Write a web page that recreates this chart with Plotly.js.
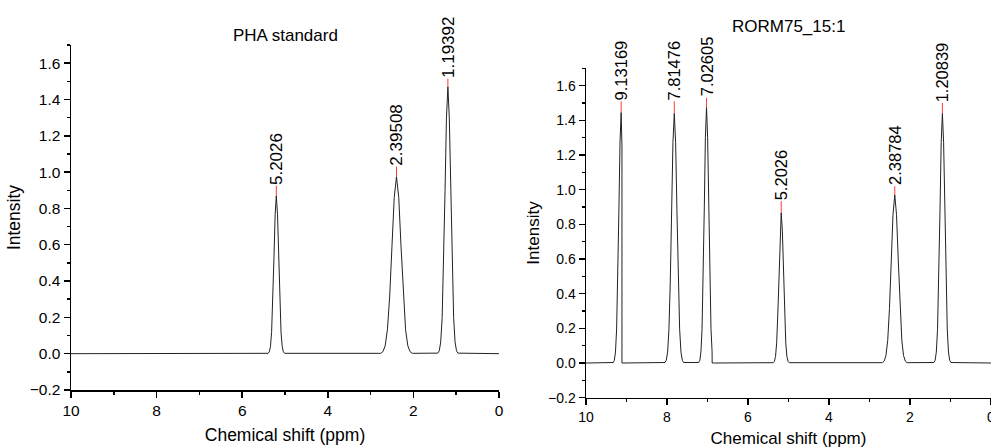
<!DOCTYPE html>
<html>
<head>
<meta charset="utf-8">
<script src="https://cdn.plot.ly/plotly-3.0.1.min.js"></script>
<style>html,body{margin:0;padding:0;background:#fff;}#chart{width:991px;height:448px;}</style>
</head>
<body>
<div id="chart"></div>
<script>
// ---- Left panel: PHA standard ----
const leftTitle = 'PHA standard';
const leftShift = [10,
  5.395, 5.368, 5.340, 5.313, 5.285, 5.258, 5.230, 5.203, 5.175, 5.148, 5.120, 5.093, 5.065, 5.038, 5.010,
  2.766, 2.713, 2.660, 2.607, 2.554, 2.501, 2.448, 2.395, 2.342, 2.289, 2.236, 2.183, 2.130, 2.077, 2.024,
  1.429, 1.395, 1.362, 1.328, 1.295, 1.261, 1.228, 1.194, 1.161, 1.127, 1.094, 1.060, 1.027, 0.993, 0.960,
  0];
const leftIntensity = [0,
  0.002, 0.010, 0.038, 0.118, 0.282, 0.528, 0.768, 0.870, 0.768, 0.528, 0.282, 0.118, 0.038, 0.010, 0.002,
  0.002, 0.011, 0.043, 0.132, 0.317, 0.591, 0.860, 0.975, 0.860, 0.591, 0.317, 0.132, 0.043, 0.011, 0.002,
  0.003, 0.016, 0.065, 0.199, 0.477, 0.892, 1.297, 1.470, 1.297, 0.892, 0.477, 0.199, 0.065, 0.016, 0.003,
  0];
const leftPeakPos = [5.2026, 2.395, 1.194];
const leftPeakHeight = [0.87, 0.975, 1.47];
const leftPeakTop = [0.925, 1.03, 1.515];
const leftPeakLabels = ['5.2026', '2.39508', '1.19392'];

// ---- Right panel: RORM75_15:1 ----
const rightTitle = 'RORM75_15:1';
const rightShift = [10,
  9.328, 9.300, 9.272, 9.244, 9.216, 9.188, 9.160, 9.132, 9.112, 9.112,
  8.051, 8.018, 7.985, 7.952, 7.919, 7.886, 7.853, 7.820, 7.787, 7.754, 7.721, 7.688, 7.655, 7.622, 7.589,
  7.217, 7.189, 7.162, 7.134, 7.107, 7.079, 7.052, 7.024, 6.997, 6.969, 6.942, 6.914, 6.887, 6.885,
  5.376, 5.348, 5.320, 5.292, 5.264, 5.236, 5.208, 5.180, 5.152, 5.124, 5.096, 5.068, 5.040, 5.012, 4.984,
  2.681, 2.637, 2.594, 2.550, 2.507, 2.463, 2.420, 2.376, 2.333, 2.289, 2.246, 2.202, 2.159, 2.115, 2.072,
  1.410, 1.380, 1.350, 1.320, 1.290, 1.260, 1.230, 1.200, 1.170, 1.140, 1.110, 1.080, 1.050, 1.020, 0.990,
  0];
const rightIntensity = [0,
  0.003, 0.016, 0.063, 0.196, 0.469, 0.876, 1.275, 1.445, 1.250, 0,
  0.003, 0.016, 0.063, 0.195, 0.468, 0.873, 1.271, 1.440, 1.271, 0.873, 0.468, 0.195, 0.063, 0.016, 0.003,
  0.003, 0.016, 0.065, 0.200, 0.479, 0.895, 1.302, 1.475, 1.302, 0.895, 0.479, 0.200, 0.065, 0,
  0.002, 0.010, 0.038, 0.117, 0.282, 0.526, 0.765, 0.867, 0.765, 0.526, 0.282, 0.117, 0.038, 0.010, 0.002,
  0.002, 0.011, 0.043, 0.131, 0.315, 0.588, 0.856, 0.970, 0.856, 0.588, 0.315, 0.131, 0.043, 0.011, 0.002,
  0.003, 0.016, 0.063, 0.195, 0.468, 0.873, 1.271, 1.440, 1.271, 0.873, 0.468, 0.195, 0.063, 0.016, 0.003,
  0];
const rightPeakPos = [9.132, 7.82, 7.024, 5.18, 2.376, 1.20];
const rightPeakHeight = [1.445, 1.44, 1.475, 0.867, 0.97, 1.44];
const rightPeakTop = [1.51, 1.51, 1.53, 0.934, 1.02, 1.50];
const rightPeakLabels = ['9.13169', '7.81476', '7.02605', '5.2026', '2.38784', '1.20839'];

const xTitle = 'Chemical shift (ppm)';
const yTitle = 'Intensity';

// ---- build ----
const FONT = 'Arial, "Liberation Sans", sans-serif';
function markerTrace(pos, h, top, xa, ya) {
  const x = [], y = [];
  pos.forEach((p, i) => { x.push(p, p, null); y.push(h[i], top[i], null); });
  return {x, y, xaxis: xa, yaxis: ya, mode: 'lines', line: {color: '#ff3b3b', width: 1}, hoverinfo: 'skip'};
}
const data = [
  {x: leftShift, y: leftIntensity, xaxis: 'x', yaxis: 'y', mode: 'lines', line: {color: '#222', width: 1}},
  markerTrace(leftPeakPos, leftPeakHeight, leftPeakTop, 'x', 'y'),
  {x: rightShift, y: rightIntensity, xaxis: 'x2', yaxis: 'y2', mode: 'lines', line: {color: '#222', width: 1}},
  markerTrace(rightPeakPos, rightPeakHeight, rightPeakTop, 'x2', 'y2')
];

function xAxis(domain, anchor, tickSize, titleSize, standoff) {
  return {domain, anchor, range: [10, 0], showline: true, linecolor: '#000', linewidth: 1.5,
    ticks: 'outside', ticklen: 6, tickwidth: 1.5, tickcolor: '#000', tick0: 0, dtick: 2,
    minor: {dtick: 1, ticks: 'outside', ticklen: 3, tickwidth: 1.5, tickcolor: '#000', showgrid: false},
    showgrid: false, zeroline: false, ticklabeloverflow: 'allow',
    tickfont: {size: tickSize, color: '#000', family: FONT},
    title: {text: xTitle, font: {size: titleSize, color: '#000', family: FONT}, standoff}};
}
function yAxis(domain, anchor, tickSize, titleSize, standoff) {
  return {domain, anchor, range: [-0.2, 1.7], showline: true, linecolor: '#000', linewidth: 1.5,
    ticks: 'outside', ticklen: 6, tickwidth: 1.5, tickcolor: '#000', tick0: 0, dtick: 0.2, tickformat: '.1f',
    minor: {dtick: 0.1, ticks: 'outside', ticklen: 3, tickwidth: 1.5, tickcolor: '#000', showgrid: false},
    showgrid: false, zeroline: false, tickfont: {size: tickSize, color: '#000', family: FONT},
    title: {text: yTitle, font: {size: titleSize, color: '#000', family: FONT}, standoff}};
}

const W = 991, H = 448;
const annotations = [];
function peakLabels(pos, top, labels, xr, yr, size) {
  pos.forEach((p, i) => annotations.push({x: p, y: top[i], xref: xr, yref: yr, text: labels[i],
    showarrow: false, textangle: -90, xanchor: 'center', yanchor: 'bottom', borderpad: 0,
    font: {size, color: '#000', family: FONT}}));
}
peakLabels(leftPeakPos, leftPeakTop, leftPeakLabels, 'x', 'y', 17);
peakLabels(rightPeakPos, rightPeakTop, rightPeakLabels, 'x2', 'y2', 16.5);
annotations.push({text: leftTitle, xref: 'paper', yref: 'paper', x: 285 / W, y: 1 - 35.5 / H,
  xanchor: 'center', yanchor: 'middle', showarrow: false, font: {size: 17, color: '#000', family: FONT}});
annotations.push({text: rightTitle, xref: 'paper', yref: 'paper', x: 788.5 / W, y: 1 - 26.7 / H,
  xanchor: 'center', yanchor: 'middle', showarrow: false, font: {size: 17, color: '#000', family: FONT}});

const layout = {
  width: W, height: H, margin: {l: 0, r: 0, t: 0, b: 0},
  paper_bgcolor: '#fff', plot_bgcolor: '#fff', showlegend: false,
  font: {family: FONT, color: '#000'},
  xaxis: xAxis([71 / W, 499 / W], 'y', 15.5, 17.5, 10),
  yaxis: yAxis([1 - 390 / H, 1 - 45 / H], 'x', 15.5, 17.5, 4),
  xaxis2: xAxis([586 / W, 1], 'y2', 14, 17, 13),
  yaxis2: yAxis([1 - 397.7 / H, 1 - 68.3 / H], 'x2', 14, 17, 4),
  annotations
};
Plotly.newPlot('chart', data, layout, {staticPlot: true, displayModeBar: false});
</script>
</body>
</html>
